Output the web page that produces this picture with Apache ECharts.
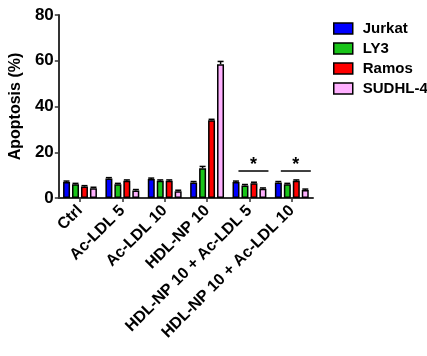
<!DOCTYPE html>
<html><head><meta charset="utf-8">
<script src="https://cdn.jsdelivr.net/npm/echarts@6/dist/echarts.min.js"></script>
<style>html,body{margin:0;padding:0;background:#fff}#c{width:427px;height:356px}</style>
</head><body><div id="c"></div>
<script>
const categories = ['Ctrl','Ac-LDL 5','Ac-LDL 10','HDL-NP 10','HDL-NP 10 + Ac-LDL 5','HDL-NP 10 + Ac-LDL 10'];
const seriesNames = ['Jurkat','LY3','Ramos','SUDHL-4'];
const jurkat = [7.0, 8.5, 8.3, 6.8, 7.0, 6.8];
const ly3 = [6.0, 6.0, 7.5, 13.0, 5.5, 6.0];
const ramos = [5.0, 7.5, 7.5, 34.0, 6.5, 7.5];
const sudhl4 = [4.3, 3.3, 3.0, 58.5, 4.0, 3.5];
const jurkatErr = [0.4, 0.4, 0.4, 0.4, 0.4, 0.4];
const ly3Err = [0.4, 0.4, 0.4, 0.8, 0.4, 0.4];
const ramosErr = [0.4, 0.4, 0.4, 0.4, 0.4, 0.4];
const sudhl4Err = [0.4, 0.4, 0.4, 1.2, 0.4, 0.4];
const yTicks = [0, 20, 40, 60, 80];
const sigCategories = [4, 5];
const sigLevel = 11.8;
const colors = ['#0000ff', '#19c419', '#ff0000', '#ffb0ff'];

const values = [jurkat, ly3, ramos, sudhl4];
const errs = [jurkatErr, ly3Err, ramosErr, sudhl4Err];
const BW = 7, STEP = 9;
const FONT = 'Liberation Sans';

const chart = echarts.init(document.getElementById('c'));
const series = [];
seriesNames.forEach((n, i) => {
  series.push({
    name: n, type: 'bar', data: values[i], barWidth: BW, barGap: '28%', barCategoryGap: '20%',
    itemStyle: {color: colors[i], borderColor: '#000', borderWidth: 1.5},
    z: 2
  });
});
seriesNames.forEach((n, i) => {
  series.push({
    type: 'custom', silent: true, z: 5,
    data: values[i].map((v, k) => [k, v, v + errs[i][k]]),
    renderItem: function (params, api) {
      const c = api.coord([api.value(0), api.value(1)]);
      const t = api.coord([api.value(0), api.value(2)]);
      const x = c[0] + (i - 1.5) * STEP;
      return {type: 'group', children: [
        {type: 'line', shape: {x1: x, y1: c[1], x2: x, y2: t[1]}, style: {stroke: '#000', lineWidth: 1.5}},
        {type: 'line', shape: {x1: x - 3, y1: t[1], x2: x + 3, y2: t[1]}, style: {stroke: '#000', lineWidth: 1.5}}
      ]};
    }
  });
});
series.push({
  type: 'custom', silent: true, z: 6,
  data: sigCategories.map(k => [k, sigLevel]),
  renderItem: function (params, api) {
    const p = api.coord([api.value(0), api.value(1)]);
    const x1 = p[0] - 11, x2 = p[0] + 19;
    return {type: 'group', children: [
      {type: 'line', shape: {x1: x1, y1: p[1], x2: x2, y2: p[1]}, style: {stroke: '#000', lineWidth: 1.5}},
      {type: 'text', style: {text: '*', x: (x1 + x2) / 2, y: p[1] + 3, textAlign: 'center', textVerticalAlign: 'bottom', font: 'bold 18px ' + FONT, fill: '#000'}}
    ]};
  }
});

chart.setOption({
  animation: false,
  textStyle: {fontFamily: FONT},
  grid: {left: 57, right: 114, top: 15, bottom: 158, containLabel: false},
  legend: {
    data: seriesNames, orient: 'vertical', left: 328, top: 15, itemWidth: 19, itemHeight: 11, itemGap: 3,
    icon: 'rect',
    textStyle: {fontSize: 15, fontWeight: 'bold', color: '#000', fontFamily: FONT, padding: [0, 0, 0, 5], lineHeight: 17},
    itemStyle: {borderColor: '#000', borderWidth: 1.5}
  },
  xAxis: {
    type: 'category', data: categories,
    axisLine: {lineStyle: {color: '#333', width: 2}},
    axisTick: {show: true, alignWithLabel: true, length: 4, lineStyle: {color: '#333', width: 1.5}},
    axisLabel: {rotate: 45, interval: 0, fontSize: 16, fontWeight: 'bold', color: '#000', margin: 10, fontFamily: FONT}
  },
  yAxis: {
    type: 'value', min: 0, max: 80, interval: 20,
    name: 'Apoptosis (%)', nameLocation: 'middle', nameGap: 29,
    nameTextStyle: {fontSize: 16, fontWeight: 'bold', color: '#000', fontFamily: FONT},
    axisLine: {show: true, lineStyle: {color: '#333', width: 2}},
    axisTick: {show: true, length: 4, lineStyle: {color: '#333', width: 1.5}},
    splitLine: {show: false},
    axisLabel: {fontSize: 17, fontWeight: 'bold', color: '#000', margin: 5, fontFamily: FONT,
      formatter: v => yTicks.includes(v) ? String(v) : ''}
  },
  series: series
});
</script></body></html>
